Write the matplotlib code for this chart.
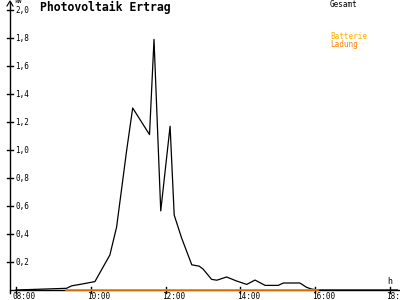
import matplotlib
matplotlib.use('Agg')
import matplotlib.pyplot as plt

# Gesamt (kW) over time of day (hours)
hours = [8.0, 9.35, 9.49, 9.71, 10.11, 10.51, 10.69, 10.96, 11.12, 11.57, 11.69,
         11.87, 12.12, 12.23, 12.43, 12.70, 12.90, 13.0, 13.23, 13.37, 13.63,
         13.90, 14.17, 14.39, 14.66, 15.01, 15.15, 15.59, 15.77, 15.90, 16.07, 18.2]
gesamt = [0.0, 0.012, 0.03, 0.04, 0.06, 0.25, 0.45, 1.0, 1.30, 1.11, 1.79,
          0.565, 1.17, 0.535, 0.37, 0.18, 0.17, 0.15, 0.076, 0.07, 0.093,
          0.064, 0.04, 0.071, 0.033, 0.033, 0.05, 0.05, 0.019, 0.007, 0.0, 0.0]

# Batterie Ladung stays at zero
ladung_hours = [9.35, 16.07]
ladung = [0.0, 0.0]

y_ticks = [0.2, 0.4, 0.6, 0.8, 1.0, 1.2, 1.4, 1.6, 1.8, 2.0]
x_ticks = [8, 10, 12, 14, 16, 18]

px_h = 37.4   # pixels per hour
px_kw = 140.0 # pixels per kW

fig = plt.figure(figsize=(4, 3), dpi=100)
ax = fig.add_axes([0, 0, 1, 1])
ax.set_xlim(8 - 16 / px_h, 8 + 384 / px_h)
ax.set_ylim(-10 / px_kw, 290 / px_kw)
ax.axis('off')

mono = 'DejaVu Sans Mono'
x_axis = 8 - 6 / px_h
dx = 1 / px_h
dy = 1 / px_kw

# axes
ax.plot([x_axis, 8 + 389 / px_h], [0, 0], color='black', lw=1)
ax.plot([x_axis, x_axis], [-3 * dy, 288 * dy], color='black', lw=1)
ax.plot([8 + 385 / px_h, 8 + 389 / px_h, 8 + 385 / px_h], [4 * dy, 0, -4 * dy], color='black', lw=0.8)
ax.plot([x_axis - 3 * dx, x_axis, x_axis + 3 * dx], [284 * dy, 289 * dy, 284 * dy], color='black', lw=0.8)

for v in y_ticks:
    ax.plot([x_axis - 3 * dx, x_axis + 3 * dx], [v, v], color='black', lw=1)
    ax.text(x_axis + 5 * dx, v, ('%.1f' % v).replace('.', ','), family=mono,
            fontsize=5.5, ha='left', va='center')
ax.text(x_axis + 4 * dx, 291 * dy, 'kW', family=mono, fontsize=4.5, ha='left', va='top')

for t in x_ticks:
    ax.plot([t, t], [-3 * dy, 3 * dy], color='black', lw=1)
    ax.text(t - 3.5 * dx, -6.5 * dy, '%02d:00' % t, family=mono, fontsize=5.5,
            ha='left', va='center')
ax.text(18 - 3 * dx, 9 * dy, 'h', family=mono, fontsize=6, ha='left', va='center')

ax.plot(hours, gesamt, color='black', lw=0.9)
ax.plot(ladung_hours, ladung, color='#ff8000', lw=1.2)

ax.text(8 + 24 / px_h, 283 * dy, 'Photovoltaik Ertrag', family=mono, fontsize=8.3,
        fontweight='bold', ha='left', va='center')
ax.text(8 + 314 / px_h, 286 * dy, 'Gesamt', family=mono, fontsize=5.5, ha='left', va='center')
ax.text(8 + 314 / px_h, 254 * dy, 'Batterie', family=mono, fontsize=5.5,
        color='#ffb000', ha='left', va='center')
ax.text(8 + 314 / px_h, 246 * dy, 'Ladung', family=mono, fontsize=5.5,
        color='#ff8000', ha='left', va='center')

fig.savefig('out.png', dpi=100, facecolor='white')
